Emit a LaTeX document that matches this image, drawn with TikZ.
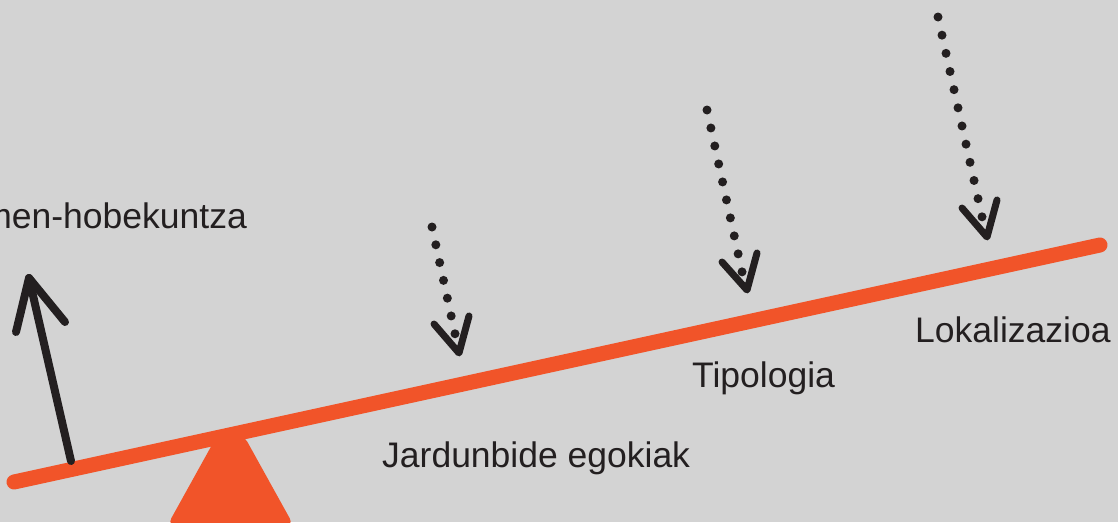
\documentclass[tikz,border=0pt]{standalone}
\usepackage{fontspec}
\setmainfont{Liberation Sans}
\definecolor{bgc}{RGB}{211,211,211}
\definecolor{lever}{RGB}{241,84,41}
\definecolor{ink}{RGB}{35,31,32}
\tikzset{
  leverline/.style={draw=lever,line width=15pt,line cap=round},
  fulcrum/.style={fill=lever,rounded corners=9pt},
  bigarrow/.style={draw=ink,line width=8pt,line cap=round,line join=round},
  dotline/.style={draw=ink,line width=9pt,line cap=round,dash pattern=on 0pt off #1},
  arm/.style={draw=ink,line width=7pt,line cap=round,line join=round},
  lbl/.style={text=ink,font=\fontsize{35.5}{40}\selectfont,inner sep=0pt,anchor=base west}
}
\begin{document}
\begin{tikzpicture}[x=1pt,y=-1pt]
\useasboundingbox (0,0) rectangle (1118,522);
\clip (0,0) rectangle (1118,522);
\fill[bgc] (0,0) rectangle (1118,522);
% fulcrum (top hidden under the lever)
\fill[fulcrum] (218,434) -- (167,526) -- (294,526) -- (243,434) -- cycle;
% lever
\coordinate (L0) at (14,482);
\coordinate (L1) at (1100,245);
\draw[leverline] (L0) -- (L1);
% big up arrow
\coordinate (A0) at (71,461);
\coordinate (At) at (29,278);
\coordinate (Al) at (16,332);
\coordinate (Ar) at (65,322);
\draw[bigarrow] (A0) -- (At);
\draw[bigarrow] (Al) -- (At) -- (Ar);
% dotted arrow 1
\coordinate (d1s) at (432,227);
\coordinate (d1e) at (455.5,336);
\coordinate (d1t) at (459,353);
\coordinate (d1l) at (434,324);
\coordinate (d1r) at (469,316);
\draw[dotline=18.2pt] (d1s) -- (d1e);
\draw[arm] (d1l) -- (d1t) -- (d1r);
% dotted arrow 2
\coordinate (d2s) at (707,110);
\coordinate (d2e) at (742.5,274);
\coordinate (d2t) at (747,290);
\coordinate (d2l) at (722,262);
\coordinate (d2r) at (757,253);
\draw[dotline=18.4pt] (d2s) -- (d2e);
\draw[arm] (d2l) -- (d2t) -- (d2r);
% dotted arrow 3
\coordinate (d3s) at (938,17);
\coordinate (d3e) at (982.5,219);
\coordinate (d3t) at (987,237);
\coordinate (d3l) at (962,208);
\coordinate (d3r) at (997,200);
\draw[dotline=18.6pt] (d3s) -- (d3e);
\draw[arm] (d3l) -- (d3t) -- (d3r);
% labels
\node[lbl,anchor=base east] (t0) at (247,228) {men-hobekuntza};
\node[lbl] (t1) at (382,467) {Jardunbide egokiak};
\node[lbl] (t2) at (692,387) {Tipologia};
\node[lbl] (t3) at (915,342) {Lokalizazioa};
\end{tikzpicture}
\end{document}
